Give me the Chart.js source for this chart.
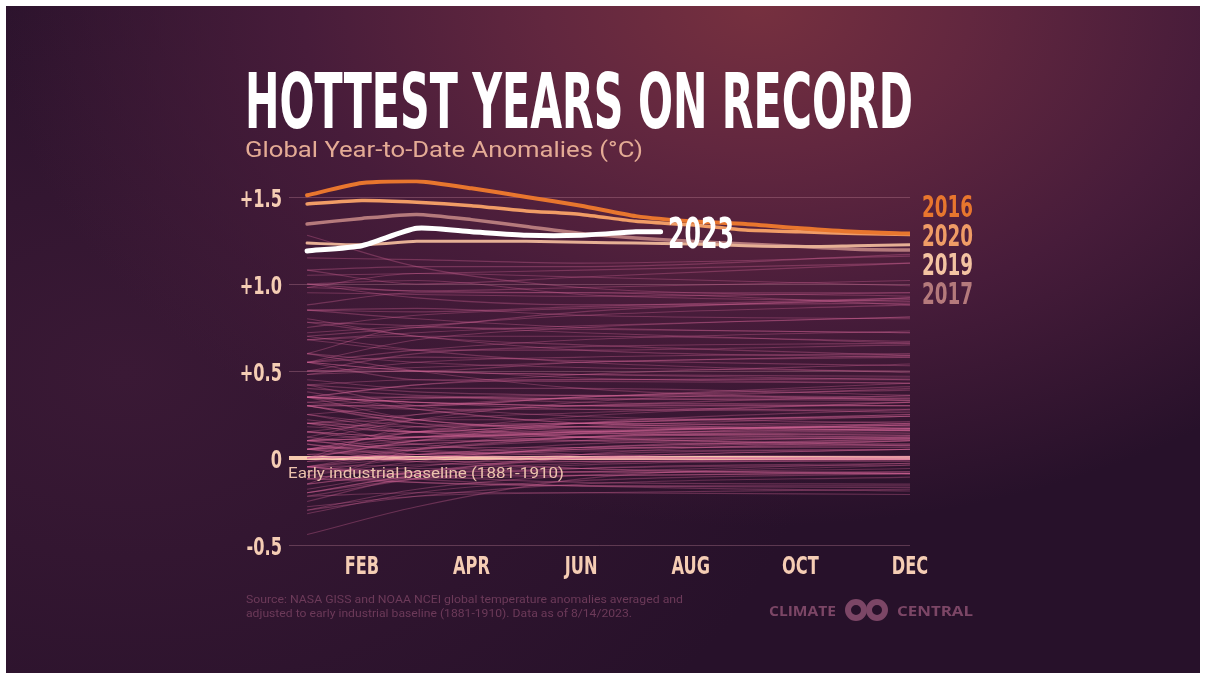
<!DOCTYPE html>
<html>
<head>
<meta charset="utf-8">
<title>Hottest Years on Record</title>
<script src="https://cdn.jsdelivr.net/npm/chart.js@4.4.0/dist/chart.umd.min.js"></script>
<style>
  html, body { margin: 0; padding: 0; background: #fff; }
  #frame {
    position: absolute; left: 6px; top: 6px; width: 1194px; height: 667px; overflow: hidden;
    background:
      radial-gradient(ellipse 760px 520px at 63% 0%, #76303f 0%, #62273f 28%, #471c3a 60%, rgba(43,18,41,0) 100%),
      radial-gradient(ellipse 700px 500px at 10% 55%, #3a1935 0%, rgba(42,18,40,0) 100%),
      #27112a;
  }
  #chart { position: absolute; left: 0; top: 0; }
  #labels { position: absolute; left: 0; top: 0; pointer-events: none; }
</style>
</head>
<body>
<div id="frame"></div>
<canvas id="chart" width="1206" height="679"></canvas>
<svg id="labels" width="1206" height="679" xmlns="http://www.w3.org/2000/svg">
  <text x="245" y="127.5" textLength="668" lengthAdjust="spacingAndGlyphs"
        font-family="'Liberation Sans Narrow', 'DejaVu Sans Condensed', sans-serif" font-weight="700"
        font-size="76" fill="#ffffff">HOTTEST YEARS ON RECORD</text>
  <text x="245" y="157" textLength="398" lengthAdjust="spacingAndGlyphs"
        font-family="Roboto, sans-serif" font-size="22" fill="#e4ab95">Global Year-to-Date Anomalies (°C)</text>
  <text x="288" y="478" textLength="276" lengthAdjust="spacingAndGlyphs"
        font-family="Roboto, sans-serif" font-size="15" fill="#ecc3ad">Early industrial baseline (1881-1910)</text>
  <text x="246" y="603" textLength="437" lengthAdjust="spacingAndGlyphs"
        font-family="Roboto, sans-serif" font-size="10.5" fill="#6c3a59">Source: NASA GISS and NOAA NCEI global temperature anomalies averaged and</text>
  <text x="246" y="617" textLength="386" lengthAdjust="spacingAndGlyphs"
        font-family="Roboto, sans-serif" font-size="10.5" fill="#6c3a59">adjusted to early industrial baseline (1881-1910). Data as of 8/14/2023.</text>
  <text x="769" y="616" textLength="67" lengthAdjust="spacingAndGlyphs"
        font-family="'Open Sans', sans-serif" font-weight="700" font-size="15" fill="#7c4666">CLIMATE</text>
  <circle cx="856" cy="610" r="8" fill="none" stroke="#7c4666" stroke-width="6"/>
  <circle cx="877" cy="610" r="8" fill="none" stroke="#7c4666" stroke-width="6"/>
  <text x="897" y="616" textLength="76" lengthAdjust="spacingAndGlyphs"
        font-family="'Open Sans', sans-serif" font-weight="700" font-size="15" fill="#7c4666">CENTRAL</text>
</svg>
<script>
// month positions (1 = Jan ... 12 = Dec)
var months = [1, 2, 3, 4, 5, 6, 7, 8, 9, 10, 11, 12];
var tickMonths = [2, 4, 6, 8, 10, 12];
var tickLabels = ['FEB', 'APR', 'JUN', 'AUG', 'OCT', 'DEC'];
var yTicks = [-0.5, 0, 0.5, 1.0, 1.5];
var yTickLabels = ['-0.5', '0', '+0.5', '+1.0', '+1.5'];

// highlighted years, year-to-date anomaly (deg C)
var y2016 = [1.51, 1.58, 1.59, 1.55, 1.50, 1.45, 1.39, 1.36, 1.345, 1.32, 1.30, 1.29];
var y2020 = [1.46, 1.48, 1.47, 1.45, 1.42, 1.40, 1.36, 1.34, 1.31, 1.30, 1.29, 1.285];
var y2019 = [1.235, 1.225, 1.245, 1.245, 1.245, 1.24, 1.235, 1.23, 1.22, 1.215, 1.22, 1.225];
var y2017 = [1.345, 1.377, 1.40, 1.37, 1.33, 1.29, 1.265, 1.245, 1.23, 1.215, 1.20, 1.195];
// 2023 runs Jan..Jul, drawn out to the 8/14 data date
var months2023 = [1, 2, 3, 4, 5, 6, 7, 7.45];
var y2023 = [1.19, 1.22, 1.32, 1.30, 1.28, 1.28, 1.30, 1.30];

var highlightYears = ['2016', '2020', '2019', '2017'];
var highlightColors = ['#e8762e', '#f09c66', '#f4c3a2', '#b57a7c'];
var lineColors = ['#e8762e', '#f09c66', '#e6b095', '#b57a7c'];

// every other year 1880-2022: [Jan, Mar, Jun, Dec]
var pastMonths = [1, 3, 6, 12];
var pastYears = [
  [0.22, 0.15, 0.12, 0.11], [0.05, 0.15, 0.20, 0.19], [0.35, 0.28, 0.20, 0.17], [-0.10, -0.02, 0.06, 0.11],
  [0.12, 0.05, 0.01, -0.01], [-0.30, -0.18, -0.10, -0.06], [-0.20, -0.10, -0.06, -0.04], [-0.32, -0.20, -0.13, -0.09],
  [-0.25, -0.10, 0.02, 0.10], [0.00, 0.18, 0.20, 0.17], [-0.05, -0.08, -0.08, -0.08], [-0.12, -0.05, 0.02, 0.05],
  [-0.15, -0.08, -0.03, 0.00], [-0.44, -0.28, -0.12, -0.04], [-0.22, -0.12, -0.06, -0.03], [-0.18, -0.08, 0.00, 0.05],
  [0.02, 0.05, 0.12, 0.16], [0.05, 0.12, 0.18, 0.16], [0.10, 0.04, 0.02, 0.01], [-0.02, 0.00, 0.06, 0.10],
  [-0.15, 0.05, 0.14, 0.19], [0.05, 0.10, 0.14, 0.12], [0.15, 0.08, 0.02, -0.01], [0.08, 0.00, -0.06, -0.09],
  [-0.28, -0.22, -0.20, -0.18], [-0.20, -0.10, -0.04, -0.01], [0.00, 0.02, 0.04, 0.05], [-0.30, -0.22, -0.15, -0.11],
  [-0.05, -0.10, -0.14, -0.15], [-0.22, -0.20, -0.20, -0.21], [-0.12, -0.14, -0.16, -0.16], [-0.10, -0.14, -0.16, -0.17],
  [-0.08, -0.06, -0.08, -0.09], [-0.05, -0.10, -0.10, -0.08], [0.20, 0.10, 0.10, 0.12], [-0.02, 0.05, 0.10, 0.13],
  [0.05, -0.02, -0.06, -0.09], [-0.05, -0.12, -0.16, -0.19], [-0.20, -0.12, -0.08, -0.03], [0.05, 0.02, 0.00, 0.00],
  [0.10, 0.04, 0.00, 0.00], [0.30, 0.20, 0.12, 0.08], [-0.05, -0.04, -0.02, -0.01], [0.05, 0.00, -0.01, 0.01],
  [0.08, 0.02, 0.00, 0.00], [-0.15, -0.08, 0.00, 0.05], [0.38, 0.28, 0.20, 0.17], [0.05, 0.06, 0.06, 0.06],
  [0.25, 0.15, 0.10, 0.07], [-0.12, -0.12, -0.10, -0.09], [-0.05, 0.02, 0.06, 0.11], [0.10, 0.12, 0.16, 0.18],
  [0.30, 0.22, 0.15, 0.11], [0.02, -0.02, -0.02, -0.02], [0.05, 0.08, 0.12, 0.15], [-0.08, 0.00, 0.05, 0.07],
  [0.00, 0.02, 0.08, 0.12], [0.10, 0.12, 0.18, 0.24], [0.35, 0.32, 0.28, 0.27], [0.20, 0.18, 0.20, 0.25],
  [0.10, 0.22, 0.32, 0.40], [0.42, 0.45, 0.45, 0.46], [0.40, 0.36, 0.34, 0.34], [0.12, 0.25, 0.30, 0.36],
  [0.55, 0.50, 0.48, 0.47], [0.45, 0.40, 0.40, 0.36], [0.42, 0.30, 0.24, 0.20], [0.20, 0.22, 0.22, 0.24],
  [0.30, 0.20, 0.18, 0.16], [0.35, 0.22, 0.18, 0.16], [-0.05, 0.00, 0.05, 0.10], [-0.05, 0.05, 0.12, 0.20],
  [0.32, 0.28, 0.28, 0.28], [0.30, 0.34, 0.36, 0.35], [0.05, 0.08, 0.12, 0.14], [0.30, 0.22, 0.16, 0.13],
  [0.00, 0.02, 0.05, 0.08], [0.05, 0.15, 0.24, 0.32], [0.60, 0.50, 0.40, 0.33], [0.35, 0.35, 0.32, 0.30],
  [0.20, 0.15, 0.20, 0.24], [0.32, 0.35, 0.34, 0.33], [0.35, 0.32, 0.30, 0.30], [0.15, 0.22, 0.26, 0.32],
  [0.25, 0.18, 0.12, 0.07], [0.20, 0.15, 0.15, 0.16], [0.10, 0.15, 0.18, 0.21], [0.18, 0.15, 0.20, 0.25],
  [0.00, 0.10, 0.15, 0.19], [0.20, 0.25, 0.30, 0.32], [0.35, 0.32, 0.30, 0.30], [0.15, 0.12, 0.15, 0.19],
  [0.00, 0.10, 0.20, 0.28], [0.48, 0.50, 0.46, 0.43], [0.10, 0.12, 0.15, 0.20], [0.35, 0.32, 0.30, 0.26],
  [0.15, 0.12, 0.14, 0.17], [0.35, 0.42, 0.45, 0.45], [0.42, 0.38, 0.36, 0.34], [0.30, 0.30, 0.35, 0.43],
  [0.55, 0.58, 0.56, 0.53], [0.80, 0.70, 0.65, 0.59], [0.25, 0.30, 0.35, 0.41], [0.78, 0.70, 0.62, 0.58],
  [0.55, 0.45, 0.44, 0.43], [0.30, 0.30, 0.35, 0.39], [0.55, 0.50, 0.48, 0.45], [0.50, 0.52, 0.55, 0.59],
  [0.78, 0.76, 0.72, 0.66], [0.35, 0.42, 0.48, 0.54], [0.60, 0.75, 0.74, 0.72], [0.68, 0.70, 0.70, 0.67],
  [0.70, 0.62, 0.55, 0.49], [0.60, 0.55, 0.52, 0.50], [0.50, 0.50, 0.55, 0.58], [0.85, 0.80, 0.75, 0.72],
  [0.48, 0.55, 0.58, 0.60], [0.55, 0.62, 0.68, 0.73], [0.88, 0.95, 0.95, 0.88], [0.68, 0.62, 0.62, 0.65],
  [0.50, 0.60, 0.64, 0.66], [0.68, 0.72, 0.76, 0.81], [1.00, 1.02, 0.94, 0.90], [1.00, 0.92, 0.88, 0.89],
  [0.85, 0.86, 0.82, 0.80], [0.98, 0.96, 0.95, 0.95], [0.75, 0.82, 0.86, 0.91], [1.28, 1.10, 0.98, 0.93],
  [0.55, 0.68, 0.75, 0.81], [0.85, 0.84, 0.87, 0.92], [0.98, 1.06, 1.04, 0.99], [0.72, 0.76, 0.82, 0.88],
  [0.70, 0.75, 0.84, 0.92], [0.95, 0.94, 0.93, 0.95], [1.00, 0.96, 0.98, 1.02], [1.08, 1.10, 1.10, 1.17],
  [1.05, 1.06, 1.08, 1.12], [1.08, 1.00, 1.04, 1.12], [1.15, 1.14, 1.12, 1.16]
];

var condensed = "'Liberation Sans Narrow', 'DejaVu Sans Condensed', sans-serif";
var peach = '#f5cdb4';

function toPoints(xs, ys) {
    var pts = [];
    for (var i = 0; i < ys.length; i++) {
        pts.push({x: xs[i], y: ys[i]});
    }
    return pts;
}

var datasets = [];

datasets.push({
    data: toPoints(months2023, y2023),
    borderColor: '#ffffff',
    borderWidth: 5,
    tension: 0.2,
    borderCapStyle: 'round',
    order: 0
});

var highlightData = [y2016, y2020, y2019, y2017];
var highlightWidths = [4, 3.5, 3, 3.5];
for (var h = 0; h < highlightData.length; h++) {
    datasets.push({
        data: toPoints(months, highlightData[h]),
        borderColor: lineColors[h],
        borderWidth: highlightWidths[h],
        tension: 0.2,
        borderCapStyle: 'round',
        order: 1 + h
    });
}

for (var p = 0; p < pastYears.length; p++) {
    datasets.push({
        data: toPoints(pastMonths, pastYears[p]),
        borderColor: 'rgba(214, 104, 152, 0.34)',
        borderWidth: 1.1,
        cubicInterpolationMode: 'monotone',
        order: 10
    });
}

// the poster uses a tall condensed face; squeeze the axis labels to match
var narrowText = {
    id: 'narrowText',
    beforeDraw: function (chart) {
        var c = chart.ctx;
        if (c.narrowed) return;
        var fill = c.fillText;
        c.fillText = function (str, x, y) {
            this.save();
            this.translate(x, y);
            this.scale(0.72, 1);
            fill.call(this, str, 0, 0);
            this.restore();
        };
        c.narrowed = true;
    }
};

var ctx = document.getElementById('chart');
var HotChart = new Chart(ctx, {
    type: 'line',
    data: {datasets: datasets},
    plugins: [narrowText],
    options: {
        responsive: false,
        animation: false,
        events: [],
        layout: {padding: {left: 0, right: 296, top: 179.6, bottom: 0}},
        plugins: {legend: {display: false}, tooltip: {enabled: false}},
        elements: {point: {radius: 0}},
        scales: {
            x: {
                type: 'linear',
                min: 0.67,
                max: 12,
                grid: {display: false},
                border: {display: false},
                afterBuildTicks: function (scale) {
                    scale.ticks = tickMonths.map(function (v) { return {value: v}; });
                },
                afterFit: function (scale) {
                    scale.height = 134;
                    scale.paddingLeft = 0;
                    scale.paddingRight = 0;
                },
                ticks: {
                    autoSkip: false,
                    maxRotation: 0,
                    padding: -1,
                    color: peach,
                    font: {family: condensed, weight: 'bold', size: 25},
                    callback: function (v, i) { return tickLabels[i]; }
                }
            },
            y: {
                min: -0.5,
                max: 1.6,
                z: 1,
                border: {display: false},
                afterBuildTicks: function (scale) {
                    scale.ticks = yTicks.map(function (v) { return {value: v}; });
                },
                afterFit: function (scale) {
                    scale.width = 289;
                    scale.paddingTop = 0;
                    scale.paddingBottom = 0;
                },
                grid: {
                    drawTicks: false,
                    color: function (c) {
                        return (c.tick && c.tick.value === 0) ? '#f6caae' : 'rgba(214, 150, 170, 0.30)';
                    },
                    lineWidth: function (c) {
                        return (c.tick && c.tick.value === 0) ? 4 : 1;
                    }
                },
                ticks: {
                    padding: 7,
                    labelOffset: 3,
                    color: peach,
                    font: {family: condensed, weight: 'bold', size: 25},
                    callback: function (v, i) { return yTickLabels[i]; }
                }
            }
        }
    }
});

// year labels on the right and the 2023 label
var svg = document.getElementById('labels');
var labelBaselines = [217, 246, 275, 304];
function addText(str, x, y, w, size, color) {
    var t = document.createElementNS('http://www.w3.org/2000/svg', 'text');
    t.setAttribute('x', x);
    t.setAttribute('y', y);
    t.setAttribute('textLength', w);
    t.setAttribute('lengthAdjust', 'spacingAndGlyphs');
    t.setAttribute('font-family', condensed);
    t.setAttribute('font-weight', '700');
    t.setAttribute('font-size', size);
    t.setAttribute('fill', color);
    t.textContent = str;
    svg.appendChild(t);
}
for (var k = 0; k < highlightYears.length; k++) {
    addText(highlightYears[k], 922, labelBaselines[k], 51, 31, highlightColors[k]);
}
addText('2023', 668, 247.5, 66, 42, '#ffffff');
</script>
</body>
</html>
